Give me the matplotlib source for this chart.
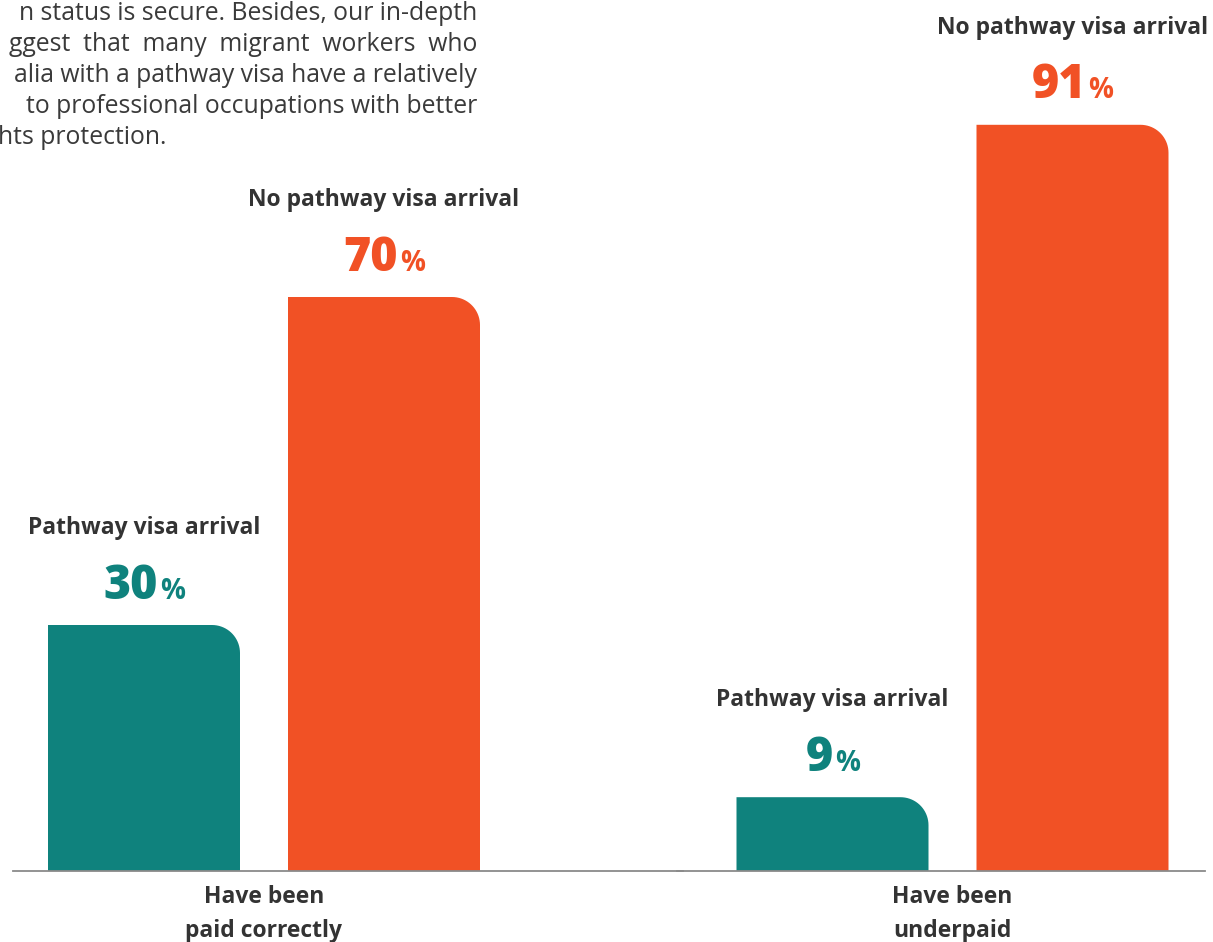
import numpy as np
import matplotlib
matplotlib.use("Agg")
import matplotlib.pyplot as plt
from matplotlib.path import Path
from matplotlib.patches import PathPatch

plt.rcParams['font.family'] = ['Open Sans', 'DejaVu Sans']

# data
groups = ["Have been\npaid correctly", "Have been\nunderpaid"]
series = ["Pathway visa arrival", "No pathway visa arrival"]
values = [[30, 70], [9, 91]]
colors = ["#0F827D", "#F15125"]

body_lines = [
    "n status is secure. Besides, our in-depth",
    "ggest  that  many  migrant  workers  who",
    "alia with a pathway visa have a relatively",
    "to professional occupations with better",
    "hts protection.",
]

W, H = 1213, 942
fig = plt.figure(figsize=(W / 100, H / 100), dpi=100)

TEXT = "#333333"
BASE_Y = 871          # baseline pixel row
PX_PER_PCT = 8.2      # vertical scale
RADIUS = 28           # corner radius in px


def px_axes(x0, x1, center0):
    # axes spanning pixel columns x0..x1, from baseline up to figure top
    ax = fig.add_axes([x0 / W, (H - BASE_Y) / H, (x1 - x0) / W, BASE_Y / H])
    ax.set_xlim((x0 - center0) / 240, (x1 - center0) / 240)
    ax.set_ylim(0, BASE_Y / PX_PER_PCT)
    ax.axis("off")
    return ax


def round_top_right(ax, rect, color):
    # swap a plain bar for one with only the top-right corner rounded
    x0, y0 = rect.get_x(), rect.get_y()
    x1, y1 = x0 + rect.get_width(), y0 + rect.get_height()
    sx = (ax.get_xlim()[1] - ax.get_xlim()[0]) / ax.bbox.width
    sy = (ax.get_ylim()[1] - ax.get_ylim()[0]) / ax.bbox.height
    rx, ry = RADIUS * sx, RADIUS * sy
    t = np.linspace(np.pi / 2, 0, 20)
    arc = np.column_stack([x1 - rx + rx * np.cos(t), y1 - ry + ry * np.sin(t)])
    verts = np.vstack([[x0, y0], [x0, y1], arc, [x1, y0], [x0, y0]])
    codes = [Path.MOVETO] + [Path.LINETO] * (len(verts) - 2) + [Path.CLOSEPOLY]
    rect.remove()
    ax.add_patch(PathPatch(Path(verts, codes), facecolor=color, edgecolor="none"))


axes = [px_axes(13, 683, 144), px_axes(677, 1205, 832.5)]
renderer = fig.canvas.get_renderer()

for ax, grp, vals in zip(axes, groups, values):
    xs = np.arange(len(vals))
    bars = ax.bar(xs, vals, width=0.8, color=colors)
    for rect, c in zip(bars, colors):
        round_top_right(ax, rect, c)
    ax.axhline(0, color="#8a8a8a", lw=1.3, clip_on=False)
    ax.annotate(grp, xy=(xs.mean(), 0), xytext=(0, -10), textcoords="offset points",
                ha="center", va="top", fontsize=16.5, fontweight="bold",
                color=TEXT, linespacing=1.55, annotation_clip=False)
    for x, v, s, c in zip(xs, vals, series, colors):
        ax.annotate(s, xy=(x, v), xytext=(0, 65.5), textcoords="offset points",
                    ha="center", va="baseline", fontsize=16.5, fontweight="bold",
                    color=TEXT, annotation_clip=False)
        num = ax.annotate(str(v), xy=(x, v), xytext=(0, 19), textcoords="offset points",
                          ha="right", va="baseline", fontsize=33.5, fontweight="heavy",
                          color=c, annotation_clip=False)
        pct = ax.annotate("%", xy=(x, v), xytext=(0, 19), textcoords="offset points",
                          ha="left", va="baseline", fontsize=20, fontweight="bold",
                          color=c, annotation_clip=False)
        wn = num.get_window_extent(renderer).width
        wp = pct.get_window_extent(renderer).width
        gap = 2
        total = wn + gap + wp
        num.set_position(((-total / 2 + wn) * 0.72, 19))
        pct.set_position(((-total / 2 + wn + gap) * 0.72, 19))

# body text, cut off on the left as in the source page
for i, line in enumerate(body_lines):
    y = 1 - (20 + 31 * i) / H
    if i < len(body_lines) - 1:
        fig.text(477 / W, y, line, ha="right", va="baseline", fontsize=17.8, color="#3a3a3a")
    else:
        fig.text(-2 / W, y, line, ha="left", va="baseline", fontsize=17.8, color="#3a3a3a")

fig.savefig("out.png", dpi=100, facecolor="white")
